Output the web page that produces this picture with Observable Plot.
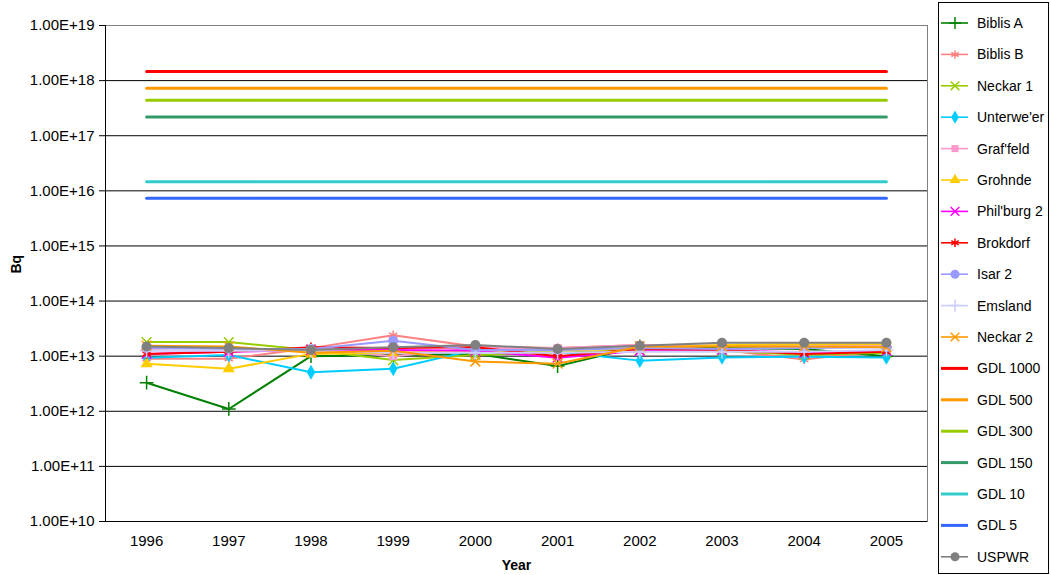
<!DOCTYPE html>
<html><head><meta charset="utf-8">
<script src="https://cdn.jsdelivr.net/npm/d3@7"></script>
<script src="https://cdn.jsdelivr.net/npm/@observablehq/plot@0.6"></script>
<style>
body{margin:0;background:#fff;font-family:"Liberation Sans",Arial,sans-serif}
#wrap{position:relative;width:1051px;height:575px;overflow:hidden}
#chart{position:absolute;left:0;top:0}
#legend{position:absolute;left:938px;top:2px;width:111px;height:572px;border:1px solid #000;box-sizing:border-box;background:#fff}
</style></head><body>
<div id="wrap"><div id="chart"></div><div id="legend"></div></div>
<script>
const years = [1996, 1997, 1998, 1999, 2000, 2001, 2002, 2003, 2004, 2005];
const yTicks = [1e10, 1e11, 1e12, 1e13, 1e14, 1e15, 1e16, 1e17, 1e18, 1e19];

const stationNames = ["Biblis A", "Biblis B", "Neckar 1", "Unterwe'er", "Graf'feld", "Grohnde", "Phil'burg 2", "Brokdorf", "Isar 2", "Emsland", "Neckar 2", "USPWR"];
const bibliaA    = [3.3e12, 1.1e12, 1.0e13, 1.05e13, 1.1e13, 6.6e12, 1.5e13, 1.4e13, 1.35e13, 1.0e13];
const biblisB    = [9.0e12, 9.0e12, 1.4e13, 2.4e13, 1.5e13, 1.4e13, 1.6e13, 1.3e13, 8.7e12, 1.3e13];
const neckar1    = [1.8e13, 1.8e13, 1.3e13, 8.5e12, 1.05e13, 1.15e13, 1.3e13, 1.25e13, 1.05e13, 1.15e13];
const unterweser = [9.4e12, 1.05e13, 5.1e12, 5.9e12, 1.3e13, 1.2e13, 8.3e12, 9.5e12, 9.8e12, 9.5e12];
const grafenrh   = [1.3e13, 1.2e13, 1.35e13, 1.0e13, 1.4e13, 1.4e13, 1.6e13, 1.55e13, 1.5e13, 1.6e13];
const grohnde    = [7.3e12, 5.9e12, 1.1e13, 1.15e13, 1.25e13, 1.25e13, 1.4e13, 1.6e13, 1.65e13, 1.65e13];
const philburg2  = [1.1e13, 1.2e13, 1.3e13, 1.3e13, 1.25e13, 9.4e12, 1.25e13, 1.3e13, 1.15e13, 1.25e13];
const brokdorf   = [1.1e13, 1.2e13, 1.45e13, 1.4e13, 1.45e13, 1.0e13, 1.35e13, 1.3e13, 1.1e13, 1.2e13];
const isar2      = [1.4e13, 1.35e13, 1.35e13, 1.9e13, 1.3e13, 1.3e13, 1.4e13, 1.35e13, 1.4e13, 1.45e13];
const emsland    = [1.25e13, 1.25e13, 1.25e13, 1.15e13, 1.15e13, 1.15e13, 1.2e13, 1.2e13, 1.2e13, 1.3e13];
const neckar2    = [1.55e13, 1.5e13, 1.15e13, 1.25e13, 8.0e12, 7.3e12, 1.5e13, 1.5e13, 1.5e13, 1.45e13];
const uspwr      = [1.5e13, 1.4e13, 1.3e13, 1.45e13, 1.6e13, 1.35e13, 1.55e13, 1.75e13, 1.75e13, 1.75e13];
const stationValues = [bibliaA, biblisB, neckar1, unterweser, grafenrh, grohnde, philburg2, brokdorf, isar2, emsland, neckar2, uspwr];
const stationColors = ["#008000", "#FF8080", "#99CC00", "#00CCFF", "#FF99CC", "#FFCC00", "#FF00FF", "#FF0000", "#9999FF", "#CCCCFF", "#FF9900", "#808080"];
const stationSymbols = ["plus", "asterisk", "times", "diamond", "square", "triangle", "times", "asterisk", "circle", "plus", "times", "circle"];

const gdlNames = ["GDL 1000", "GDL 500", "GDL 300", "GDL 150", "GDL 10", "GDL 5"];
const gdlValues = [1.46e18, 7.3e17, 4.38e17, 2.19e17, 1.46e16, 7.3e15];
const gdlColors = ["#FF0000", "#FF9900", "#99CC00", "#339966", "#33CCCC", "#3366FF"];

const strokeSymbols = new Set(["plus", "times", "asterisk"]);

// tidy tables
const stationRows = stationNames.flatMap((name, s) =>
  years.map((year, i) => ({series: name, year, value: stationValues[s][i], color: stationColors[s]})));
const gdlRows = gdlNames.flatMap((name, s) =>
  years.map(year => ({series: name, year, value: gdlValues[s], color: gdlColors[s]})));
const boundaries = [...years.map(y => y - 0.5), years[years.length - 1] + 0.5];
const xDomain = [boundaries[0], boundaries[boundaries.length - 1]];
const yDomain = [yTicks[0], yTicks[yTicks.length - 1]];

const marks = [
  Plot.frame({stroke: "#808080"}),
  Plot.ruleY(yTicks.slice(0, -1), {stroke: "#000", strokeWidth: 1}),
  Plot.ruleX([xDomain[0]], {stroke: "#000", strokeWidth: 1}),
  Plot.ruleX(boundaries, {x: d => d, y1: () => yDomain[0], insetBottom: -5, stroke: "#000"}),
  Plot.line(gdlRows, {x: "year", y: "value", z: "series", stroke: "color", strokeWidth: 3})
];
stationNames.forEach((name, s) => {
  const rows = stationRows.filter(d => d.series === name);
  const sym = stationSymbols[s];
  const isStroke = strokeSymbols.has(sym);
  marks.push(Plot.line(rows, {x: "year", y: "value", stroke: "color", strokeWidth: 2}));
  marks.push(Plot.dot(rows, {
    x: "year", y: "value", symbol: () => sym, r: sym === "circle" ? 5 : 4.5,
    fill: isStroke ? "none" : stationColors[s],
    stroke: isStroke ? stationColors[s] : "none",
    strokeWidth: 1.5
  }));
});
marks.push(Plot.text(["Year"], {frameAnchor: "bottom", dy: 48, fontWeight: "bold", fontSize: 14}));
marks.push(Plot.text(["Bq"], {frameAnchor: "left", dx: -89, rotate: -90, fontWeight: "bold", fontSize: 14}));

const chart = Plot.plot({
  width: 935,
  height: 575,
  marginLeft: 105,
  marginRight: 8,
  marginTop: 25,
  marginBottom: 54,
  style: {fontFamily: "'Liberation Sans', Arial, sans-serif", fontSize: "15px", color: "#000", background: "#fff"},
  x: {type: "linear", domain: xDomain, ticks: years, tickFormat: "d", tickSize: 0, tickPadding: 14, label: null},
  y: {type: "log", domain: yDomain, ticks: yTicks, tickFormat: d => "1.00E+" + Math.round(Math.log10(d)), tickSize: 6, tickPadding: 5, label: null},
  color: {type: "identity"},
  symbol: {type: "identity"},
  marks
});
// axis tick labels at 15px, axis titles at 14px
d3.select(chart).selectAll("text").style("font-size", "15px");
d3.select(chart).selectAll("text").filter(function () { return this.textContent === "Year" || this.textContent === "Bq"; })
  .style("font-size", "14px");
document.getElementById("chart").appendChild(chart);

// legend
const legendNames = [...stationNames.slice(0, 11), ...gdlNames, stationNames[11]];
const legendItems = legendNames.map(n => {
  const si = stationNames.indexOf(n);
  if (si >= 0) return {name: n, color: stationColors[si], symbol: stationSymbols[si], width: 1.6};
  const gi = gdlNames.indexOf(n);
  return {name: n, color: gdlColors[gi], symbol: null, width: 3};
});
const symMap = {plus: d3.symbolPlus, times: d3.symbolTimes, asterisk: d3.symbolAsterisk, diamond: d3.symbolDiamond, square: d3.symbolSquare, triangle: d3.symbolTriangle, circle: d3.symbolCircle};
const lg = d3.select("#legend").append("svg").attr("width", 109).attr("height", 570)
  .style("font-family", "'Liberation Sans', Arial, sans-serif").style("font-size", "14px");
legendItems.forEach((it, i) => {
  const g = lg.append("g").attr("transform", `translate(0,${20 + i * 31.4})`);
  g.append("line").attr("x1", 2).attr("x2", 29).attr("y1", 0).attr("y2", 0).attr("stroke", it.color).attr("stroke-width", it.width);
  if (it.symbol) {
    const r = it.symbol === "circle" ? 4.5 : 4;
    const isStroke = strokeSymbols.has(it.symbol);
    g.append("path").attr("transform", "translate(16,0)")
      .attr("d", d3.symbol(symMap[it.symbol], Math.PI * r * r)())
      .attr("fill", isStroke ? "none" : it.color)
      .attr("stroke", isStroke ? it.color : "none").attr("stroke-width", 1.5);
  }
  g.append("text").attr("x", 38).attr("y", 0).attr("dy", "0.35em").attr("fill", "#000").text(it.name);
});
</script>
</body></html>
